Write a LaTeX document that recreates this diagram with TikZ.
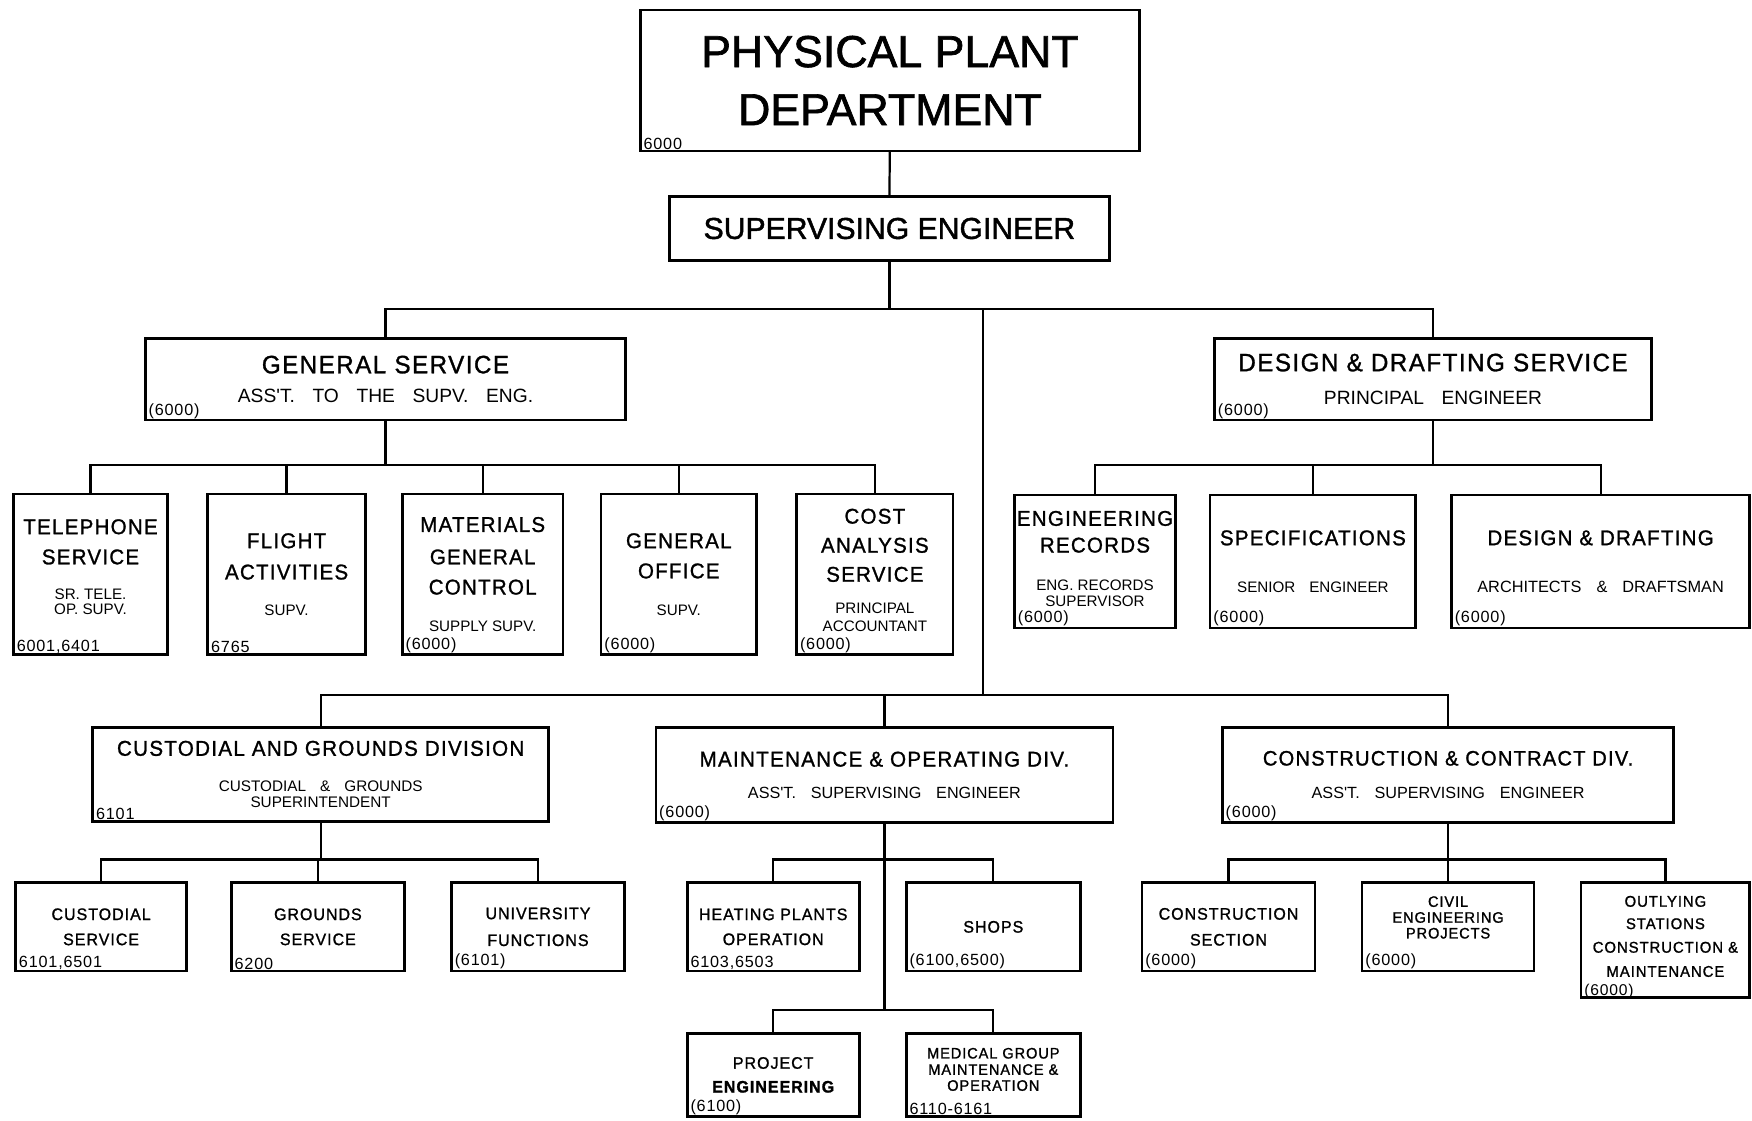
\documentclass[tikz,border=0pt]{standalone}
\usepackage{fontspec}
\setmainfont{Liberation Sans}
\newfontfamily\heavyfont[FakeBold=1.5]{Liberation Sans}
\newfontfamily\leroy[FakeStretch=0.96,LetterSpace=6,FakeBold=1.2]{Liberation Sans}
\newfontfamily\leroyrole[WordSpace=3.3]{Liberation Sans}
\newfontfamily\codefont[LetterSpace=5]{Liberation Sans}
\newcommand\namefont[1]{\leroy\fontsize{#1}{20}\selectfont}
\newcommand\rolefont[1]{\leroyrole\fontsize{#1}{20}\selectfont}
\newcommand\plainrole[1]{\normalfont\fontsize{#1}{20}\selectfont}
\begin{document}
\begin{tikzpicture}[x=1pt, y=1pt,
        unit/.style={draw, line width=2.4pt, inner sep=0pt, align=center, font=\fontsize{12}{20}\selectfont},
        acct/.style={label={[anchor=south west, inner xsep=4pt, inner ysep=2.5pt, font=\codefont\fontsize{14.5}{15}\selectfont]south west:#1}},
        acctlow/.style={label={[anchor=south west, inner xsep=4pt, inner ysep=0.5pt, font=\codefont\fontsize{14}{15}\selectfont]south west:#1}},
        link/.style={line width=2pt}]
                \useasboundingbox (0,0) rectangle (1568,-1002.4);

                \node[unit, minimum width=447, minimum height=126, font=\heavyfont\fontsize{40}{52}\selectfont, acct=6000] (ppd) at (796.5,-72) {PHYSICAL PLANT\\DEPARTMENT};
                \node[unit, minimum width=394, minimum height=57, font=\heavyfont\fontsize{27}{30}\selectfont] (se) at (796,-204.5) {SUPERVISING ENGINEER};

                \node[unit, minimum width=430, minimum height=73, acct=(6000)] (gs) at (345,-339.5) {\namefont{22.5}GENERAL SERVICE\\[6.4pt]\rolefont{17.2}ASS'T. TO THE SUPV. ENG.};
                \node[unit, minimum width=391, minimum height=73, acct=(6000)] (dds) at (1282.5,-339.5) {\namefont{22.5}DESIGN \& DRAFTING SERVICE\\[10.1pt]\rolefont{17.2}PRINCIPAL ENGINEER};

                \node[unit, minimum width=138, minimum height=144, text depth=13pt, acct={6001,6401}] (tel) at (81,-514) {\namefont{19.1}TELEPHONE\\[7pt]\namefont{19.1}SERVICE\\[11.6pt]\plainrole{13.6}SR. TELE.\\[-6.3pt]\plainrole{13.6}OP. SUPV.};
                \node[unit, minimum width=141, minimum height=144, acct=6765] (flt) at (256.5,-514) {\namefont{19.1}FLIGHT\\[8pt]\namefont{19.1}ACTIVITIES\\[12.1pt]\plainrole{13.6}SUPV.};
                \node[unit, minimum width=144, minimum height=144, acct=(6000)] (mat) at (432,-514) {\namefont{19.1}MATERIALS\\[9pt]\namefont{19.1}GENERAL\\[7pt]\namefont{19.1}CONTROL\\[13.1pt]\plainrole{13.6}SUPPLY SUPV.};
                \node[unit, minimum width=139, minimum height=144, acct=(6000)] (gof) at (607.5,-514) {\namefont{19.1}GENERAL\\[7pt]\namefont{19.1}OFFICE\\[13.1pt]\plainrole{13.6}SUPV.};
                \node[unit, minimum width=140, minimum height=144, text depth=8pt, acct=(6000)] (cost) at (783,-514) {\namefont{19.1}COST\\[6pt]\namefont{19.1}ANALYSIS\\[6pt]\namefont{19.1}SERVICE\\[8.1pt]\plainrole{13.6}PRINCIPAL\\[-4pt]\plainrole{13.6}ACCOUNTANT};

                \node[unit, minimum width=144, minimum height=119, text depth=5pt, acct=(6000)] (engr) at (980,-502.5) {\namefont{19.1}ENGINEERING\\[3.9pt]\namefont{19.1}RECORDS\\[13.6pt]\plainrole{13.6}ENG. RECORDS\\[-5.3pt]\plainrole{13.6}SUPERVISOR};
                \node[unit, minimum width=184, minimum height=119, acct=(6000)] (spec) at (1175,-502.5) {\namefont{19.1}SPECIFICATIONS\\[22.3pt]\rolefont{13.6}SENIOR ENGINEER};
                \node[unit, minimum width=267, minimum height=119, acct=(6000)] (dd) at (1432.5,-502.5) {\namefont{19.1}DESIGN \& DRAFTING\\[22.3pt]\rolefont{14.6}ARCHITECTS \& DRAFTSMAN};

                \coordinate (trunk) at (880,-622);

                \node[unit, minimum width=408, minimum height=84, acct=6101] (cgd) at (287,-693) {\namefont{19.2}CUSTODIAL AND GROUNDS DIVISION\\[12.2pt]\rolefont{13.7}CUSTODIAL \& GROUNDS\\[-5.7pt]\rolefont{13.7}SUPERINTENDENT};
                \node[unit, minimum width=409, minimum height=85, acct=(6000)] (mod) at (791.5,-693.5) {\namefont{19.2}MAINTENANCE \& OPERATING DIV.\\[8.1pt]\rolefont{14.5}ASS'T. SUPERVISING ENGINEER};
                \node[unit, minimum width=404, minimum height=85, acct=(6000)] (ccd) at (1296,-693.5) {\namefont{18.7}CONSTRUCTION \& CONTRACT DIV.\\[9.7pt]\rolefont{14.5}ASS'T. SUPERVISING ENGINEER};

                \node[unit, minimum width=153, minimum height=79, acct={6101,6501}] (cust) at (90.5,-829.5) {\namefont{14.9}CUSTODIAL\\[2.5pt]\namefont{14.9}SERVICE};
                \node[unit, minimum width=155, minimum height=79, acct=6200] (grd) at (284.5,-829.5) {\namefont{14.9}GROUNDS\\[2.4pt]\namefont{14.9}SERVICE};
                \node[unit, minimum width=155, minimum height=79, acct=(6101)] (univ) at (481.5,-829.5) {\namefont{14.9}UNIVERSITY\\[4pt]\namefont{14.9}FUNCTIONS};

                \node[unit, minimum width=154, minimum height=79, acct={6103,6503}] (heat) at (692,-829.5) {\namefont{14.9}HEATING PLANTS\\[2.3pt]\namefont{14.9}OPERATION};
                \node[unit, minimum width=156, minimum height=79, acct={(6100,6500)}] (shop) at (889,-829.5) {\namefont{14.9}SHOPS};
                \node[unit, minimum width=154, minimum height=74, acct=(6100)] (proj) at (692,-962) {\namefont{14.9}PROJECT\\[1.3pt]\namefont{14.9}\bfseries ENGINEERING};
                \node[unit, minimum width=156, minimum height=74, text depth=10pt, acct=6110-6161] (med) at (889,-962) {\namefont{13.6}MEDICAL GROUP\\[-5.4pt]\namefont{13.6}MAINTENANCE \&\\[-5.7pt]\namefont{13.6}OPERATION};

                \node[unit, minimum width=155, minimum height=79, acct=(6000)] (csec) at (1099.5,-829.5) {\namefont{14.9}CONSTRUCTION\\[3.2pt]\namefont{14.9}SECTION};
                \node[unit, minimum width=154, minimum height=79, text depth=17pt, acct=(6000)] (civ) at (1296,-829.5) {\namefont{13.6}CIVIL\\[-5.8pt]\namefont{13.6}ENGINEERING\\[-5.9pt]\namefont{13.6}PROJECTS};
                \node[unit, minimum width=151, minimum height=103, text depth=7pt, acctlow=(6000)] (outl) at (1490.5,-841.5) {\namefont{13.9}OUTLYING\\[0pt]\namefont{13.9}STATIONS\\[1.1pt]\namefont{13.9}CONSTRUCTION \&\\[1.6pt]\namefont{13.9}MAINTENANCE};

                \draw[link] (ppd) -- (se);
                \draw[link] (se.south) -- ++(0,-42) -| (gs.north);
                \draw[link] (se.south) -- ++(0,-42) -| (dds.north);
                \draw[link] (se.south) -- ++(0,-42) -| (trunk);

                \draw[link] (gs.south) -- ++(0,-39) -| (tel.north);
                \draw[link] (gs.south) -- ++(0,-39) -| (flt.north);
                \draw[link] (gs.south) -- ++(0,-39) -| (mat.north);
                \draw[link] (gs.south) -- ++(0,-39) -| (gof.north);
                \draw[link] (gs.south) -- ++(0,-39) -| (cost.north);

                \draw[link] (dds.south) -- ++(0,-39) -| (engr.north);
                \draw[link] (dds.south) -- ++(0,-39) -| (spec.north);
                \draw[link] (dds.south) -- ++(0,-39) -| (dd.north);

                \draw[link] (trunk) -| (cgd.north);
                \draw[link] (trunk) -| (mod.north);
                \draw[link] (trunk) -| (ccd.north);

                \draw[link] (cgd.south) -- ++(0,-33) -| (cust.north);
                \draw[link] (cgd.south) -- ++(0,-33) -| (grd.north);
                \draw[link] (cgd.south) -- ++(0,-33) -| (univ.north);

                \draw[link] (mod.south) -- ++(0,-32) -| (heat.north);
                \draw[link] (mod.south) -- ++(0,-32) -| (shop.north);
                \draw[link] (mod.south) -- ++(0,-167) -| (proj.north);
                \draw[link] (mod.south) -- ++(0,-167) -| (med.north);

                \draw[link] (ccd.south) -- ++(0,-32) -| (csec.north);
                \draw[link] (ccd.south) -- ++(0,-32) -| (civ.north);
                \draw[link] (ccd.south) -- ++(0,-32) -| (outl.north);
\end{tikzpicture}
\end{document}
